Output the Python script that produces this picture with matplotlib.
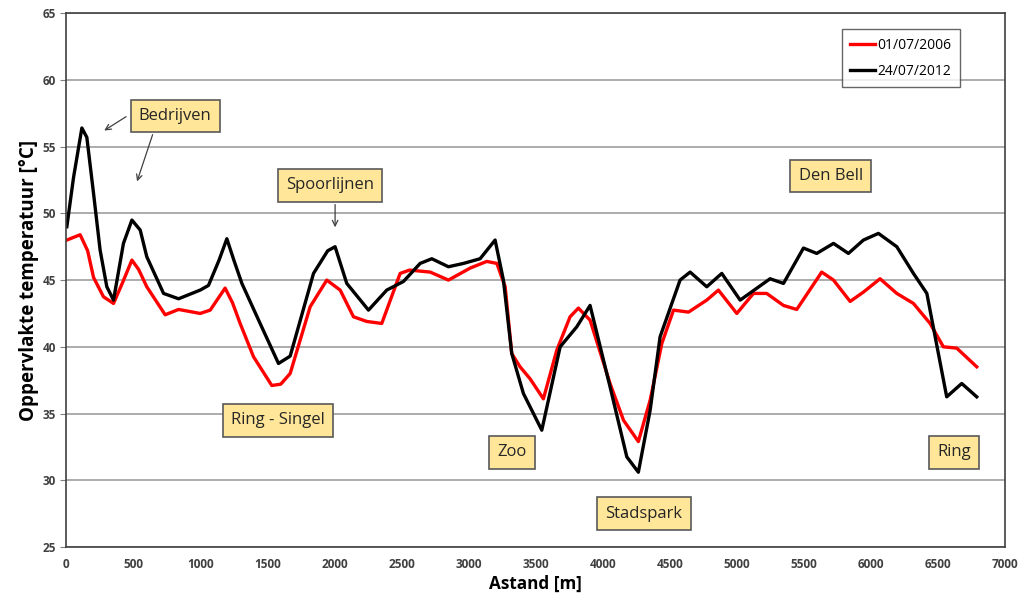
import matplotlib
matplotlib.use("Agg")
import matplotlib.pyplot as plt

plt.rcParams['font.family'] = ['Open Sans', 'DejaVu Sans']

# afstand [m] en temperatuur [C]
x_2006 = [5, 104, 160, 204, 278, 353, 420, 490, 540, 601, 738, 838, 999, 1074, 1185, 1240,
          1297, 1397, 1533, 1600, 1670, 1819, 1943, 2043, 2142, 2241, 2353, 2490, 2560, 2714,
          2850, 3012, 3136, 3211, 3273, 3322, 3384, 3459, 3558, 3658, 3757, 3819, 3906, 4055,
          4155, 4266, 4354, 4441, 4528, 4640, 4776, 4863, 5000, 5124, 5223, 5348, 5447, 5633,
          5721, 5845, 5944, 6068, 6193, 6317, 6441, 6540, 6640, 6789]
t_2006 = [48.0, 48.4, 47.2, 45.2, 43.75, 43.25, 44.8, 46.5, 45.8, 44.5, 42.4, 42.8, 42.5,
          42.75, 44.4, 43.3, 41.75, 39.25, 37.1, 37.2, 38.0, 43.0, 45.0, 44.25, 42.25, 41.9,
          41.75, 45.5, 45.75, 45.6, 45.0, 45.9, 46.4, 46.25, 44.5, 39.5, 38.5, 37.6, 36.1,
          39.75, 42.25, 42.9, 42.0, 37.25, 34.5, 32.9, 36.0, 40.25, 42.75, 42.6, 43.5, 44.25,
          42.5, 44.0, 44.0, 43.1, 42.8, 45.6, 45.0, 43.4, 44.1, 45.1, 44.0, 43.25, 41.75,
          40.0, 39.9, 38.5]

x_2012 = [5, 55, 117, 154, 204, 253, 303, 353, 427, 490, 552, 601, 726, 838, 999, 1061,
          1140, 1198, 1250, 1310, 1446, 1583, 1670, 1844, 1950, 2005, 2092, 2254, 2390, 2515,
          2639, 2726, 2850, 2962, 3086, 3198, 3260, 3322, 3409, 3546, 3683, 3807, 3906, 4055,
          4180, 4266, 4354, 4428, 4577, 4652, 4776, 4888, 5025, 5248, 5348, 5497, 5596, 5721,
          5832, 5944, 6056, 6193, 6317, 6417, 6479, 6565, 6677, 6789]
t_2012 = [49.0, 52.7, 56.4, 55.7, 51.5, 47.25, 44.5, 43.5, 47.75, 49.5, 48.75, 46.75, 44.0,
          43.6, 44.25, 44.6, 46.5, 48.1, 46.5, 44.75, 41.75, 38.75, 39.3, 45.5, 47.2, 47.5,
          44.75, 42.75, 44.25, 44.9, 46.25, 46.6, 46.0, 46.25, 46.6, 48.0, 45.0, 39.5, 36.5,
          33.75, 40.0, 41.5, 43.1, 37.0, 31.75, 30.6, 35.25, 40.75, 45.0, 45.6, 44.5, 45.5,
          43.5, 45.1, 44.75, 47.4, 47.0, 47.75, 47.0, 48.0, 48.5, 47.5, 45.5, 44.0, 40.75,
          36.25, 37.25, 36.25]

labels = ["Bedrijven", "Spoorlijnen", "Ring - Singel", "Zoo", "Stadspark", "Ring", "Den Bell"]
label_x = [813, 1968, 1579, 3322, 4309, 6618, 5702]
label_y = [57.3, 52.1, 34.5, 32.1, 27.5, 32.1, 52.8]

fig = plt.figure(figsize=(10.34, 6.03), dpi=100)
ax = fig.add_axes([0.064, 0.093, 0.908, 0.885])

ax.plot(x_2006, t_2006, color='#ff0000', lw=2.4, solid_joinstyle='round', label='01/07/2006')
ax.plot(x_2012, t_2012, color='black', lw=2.4, solid_joinstyle='round', label='24/07/2012')

ax.set_xlim(0, 7000)
ax.set_ylim(25, 65)
ax.set_xticks(range(0, 7001, 500))
ax.set_yticks(range(25, 66, 5))
ax.grid(axis='y', color='#a6a6a6', lw=1.3)
ax.set_axisbelow(True)
ax.tick_params(axis='x', length=0, pad=8, labelsize=8.5, labelcolor='#404040')
ax.tick_params(axis='y', length=4, direction='out', color='#808080', labelsize=8.5, labelcolor='#404040')
for lab in ax.get_xticklabels() + ax.get_yticklabels():
    lab.set_fontweight('bold')
for s in ax.spines.values():
    s.set_color('#404040')
    s.set_linewidth(1.2)

ax.set_xlabel('Astand [m]', fontsize=12.3, fontweight='bold', labelpad=3)
ax.set_ylabel('Oppervlakte temperatuur [°C]', fontsize=13.5, fontweight='bold', labelpad=2)

box = dict(boxstyle='square,pad=0.5', fc='#ffe699', ec='#595959', lw=1.2)
for txt, lx, ly in zip(labels, label_x, label_y):
    ax.text(lx, ly, txt, ha='center', va='center', fontsize=12, color='#262626', bbox=box)

arrow = dict(arrowstyle='->', color='#404040', lw=0.9)
ax.annotate('', xy=(266, 56.1), xytext=(464, 57.36), arrowprops=arrow)
ax.annotate('', xy=(522, 52.2), xytext=(651, 56.1), arrowprops=arrow)
ax.annotate('', xy=(2005, 48.75), xytext=(2005, 50.87), arrowprops=arrow)

leg = ax.legend(loc='upper right', bbox_to_anchor=(0.9595, 0.983), fontsize=10, frameon=True,
                fancybox=False, edgecolor='#404040', handlelength=1.8, handletextpad=0.2,
                borderpad=0.6, labelspacing=0.8)
leg.get_frame().set_linewidth(1.0)

fig.savefig('out.png', dpi=100)
